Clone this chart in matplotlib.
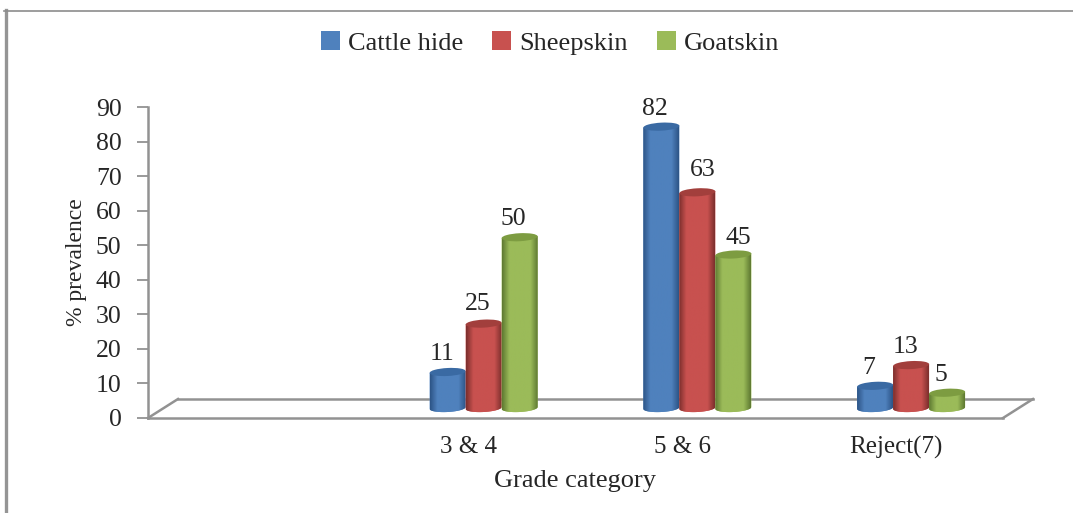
import numpy as np
import matplotlib
matplotlib.use('Agg')
import matplotlib.pyplot as plt
from matplotlib.patches import Ellipse, PathPatch, Patch
from matplotlib.path import Path
from matplotlib.transforms import Affine2D, IdentityTransform
from matplotlib.colors import LinearSegmentedColormap

categories = ['', '3 & 4', '5 & 6', 'Reject(7)']
cattle_hide = [None, 11, 82, 7]
sheepskin = [None, 25, 63, 13]
goatskin = [None, 50, 45, 5]
y_ticks = list(range(0, 100, 10))

W, H = 1073, 513
plt.rcParams['font.family'] = ['Liberation Serif', 'DejaVu Serif']
GREY = '#929292'
TEXT = '#262626'

fig = plt.figure(figsize=(W / 100, H / 100), dpi=100, facecolor='white')
ax = fig.add_axes([148 / W, 1 - 418 / H, 855 / W, 311 / H])
ax.set_xlim(-0.5, 3.5)
ax.set_ylim(0, 90)
ax.patch.set_visible(False)

for s in ['top', 'right']:
    ax.spines[s].set_visible(False)
for s in ['left', 'bottom']:
    ax.spines[s].set_color(GREY)
    ax.spines[s].set_linewidth(1.8)
ax.set_yticks(y_ticks)
ax.set_xticks(range(len(categories)))
ax.set_xticklabels(categories)
ax.tick_params(axis='y', length=8, width=1.3, color=GREY, labelsize=18.5, labelcolor=TEXT, pad=11)
ax.tick_params(axis='x', length=0, labelsize=18, labelcolor=TEXT, pad=13)
ax.set_xlabel('Grade category', fontsize=19, color=TEXT)
ax.xaxis.set_label_coords((575 - 148) / 855, -(470 - 418) / 311)
ax.set_ylabel('% prevalence', fontsize=17, color=TEXT)
ax.yaxis.set_label_coords((87 - 148) / 855, 0.5)

# floor of the 3D box, back edge is shifted by a fixed pixel offset
back = Affine2D().translate(30, 19)
ax.plot([-0.5, 3.5], [0, 0], color=GREY, lw=1.8, clip_on=False,
        transform=ax.transData + back)
x0, y0 = ax.transData.transform((-0.5, 0))
x1, y1 = ax.transData.transform((3.5, 0))
for xa in (x0, x1):
    fig.add_artist(plt.Line2D([xa / W, (xa + 30) / W], [y0 / H, (y0 + 19) / H],
                              color=GREY, lw=1.8))

# page frame
fig.add_artist(plt.Line2D([5.5 / W, 5.5 / W], [0, 1 - 10 / H], color='#959595', lw=2.4))
fig.add_artist(plt.Line2D([4 / W, 1], [1 - 10.5 / H, 1 - 10.5 / H], color='#8c8c8c', lw=1.2))

BAR_W = 36
SHIFT_X, SHIFT_Y = 15, 10
ELL_H = 8
TILT = 3

series = [
    ('Cattle hide', cattle_hide, '#4f81bd', '#2d5587', '#3a6aa3', -1),
    ('Sheepskin', sheepskin, '#c8514f', '#7d2f2d', '#a23f3c', 0),
    ('Goatskin', goatskin, '#9bbb59', '#5f7a32', '#7d9c41', 1),
]

# hand placed value labels in the source, (category, series) -> pixel nudge
label_nudge = {(2, 1): (11, 4), (2, 2): (11, -2), (1, 1): (0, 2)}


def draw_cylinder(xc, ytop, ybot, main, dark, top, z):
    w = BAR_W / 2
    rise = np.tan(np.radians(TILT)) * w
    t = np.linspace(np.pi, 0, 30)
    # lower edge bulges down, upper edge is the tilted ellipse centre line
    bx = xc + w * np.cos(t[::-1] + np.pi)
    by = ybot - ELL_H / 2 * np.sin(t) + rise * np.cos(t[::-1] + np.pi)
    verts = list(zip(bx, by)) + [(xc + w, ytop + rise), (xc - w, ytop - rise), (bx[0], by[0])]
    codes = [Path.MOVETO] + [Path.LINETO] * (len(verts) - 2) + [Path.CLOSEPOLY]
    body = PathPatch(Path(verts, codes), transform=IdentityTransform(), fc=main, ec='none', zorder=z)
    fig.add_artist(body)
    cmap = LinearSegmentedColormap.from_list('c', [(0, dark), (0.2, main), (0.8, main), (1, dark)])
    im = ax.imshow(np.linspace(0, 1, 64).reshape(1, -1), cmap=cmap, aspect='auto',
                   extent=[xc - w, xc + w, ybot - 12, ytop + 8], zorder=z,
                   transform=IdentityTransform(), clip_on=True)
    im.set_clip_path(body)
    im.remove()
    fig.add_artist(im)
    cap = Ellipse((xc, ytop), BAR_W, ELL_H, angle=TILT, transform=IdentityTransform(),
                  fc=top, ec='none', zorder=z + 0.1)
    fig.add_artist(cap)


for j, (name, values, main, dark, top, off) in enumerate(series):
    for i, v in enumerate(values):
        if v is None:
            continue
        xd, yd = ax.transData.transform((i, v))
        _, yb = ax.transData.transform((i, 0))
        xc = xd + SHIFT_X + off * BAR_W
        draw_cylinder(xc, yd + SHIFT_Y - 2, yb + SHIFT_Y, main, dark, top, 3 + j * 0.2)
        nx, ny = label_nudge.get((i, j), (0, 0))
        fig.text((xc - 6 + nx) / W, (yd + 15 + ny) / H, str(v), ha='center', va='bottom',
                 fontsize=18.5, color=TEXT, zorder=6)

ax.set_xlim(-0.5, 3.5)
ax.set_ylim(0, 90)

handles = [Patch(fc=s[2], ec='none') for s in series]
fig.legend(handles, [s[0] for s in series], loc='center', bbox_to_anchor=(550 / W, 1 - 43 / H),
           ncol=3, frameon=False, fontsize=19, labelcolor=TEXT, handlelength=0.72, handleheight=0.7,
           handletextpad=0.3, columnspacing=1.1)

fig.savefig('out.png', dpi=100, facecolor='white')
